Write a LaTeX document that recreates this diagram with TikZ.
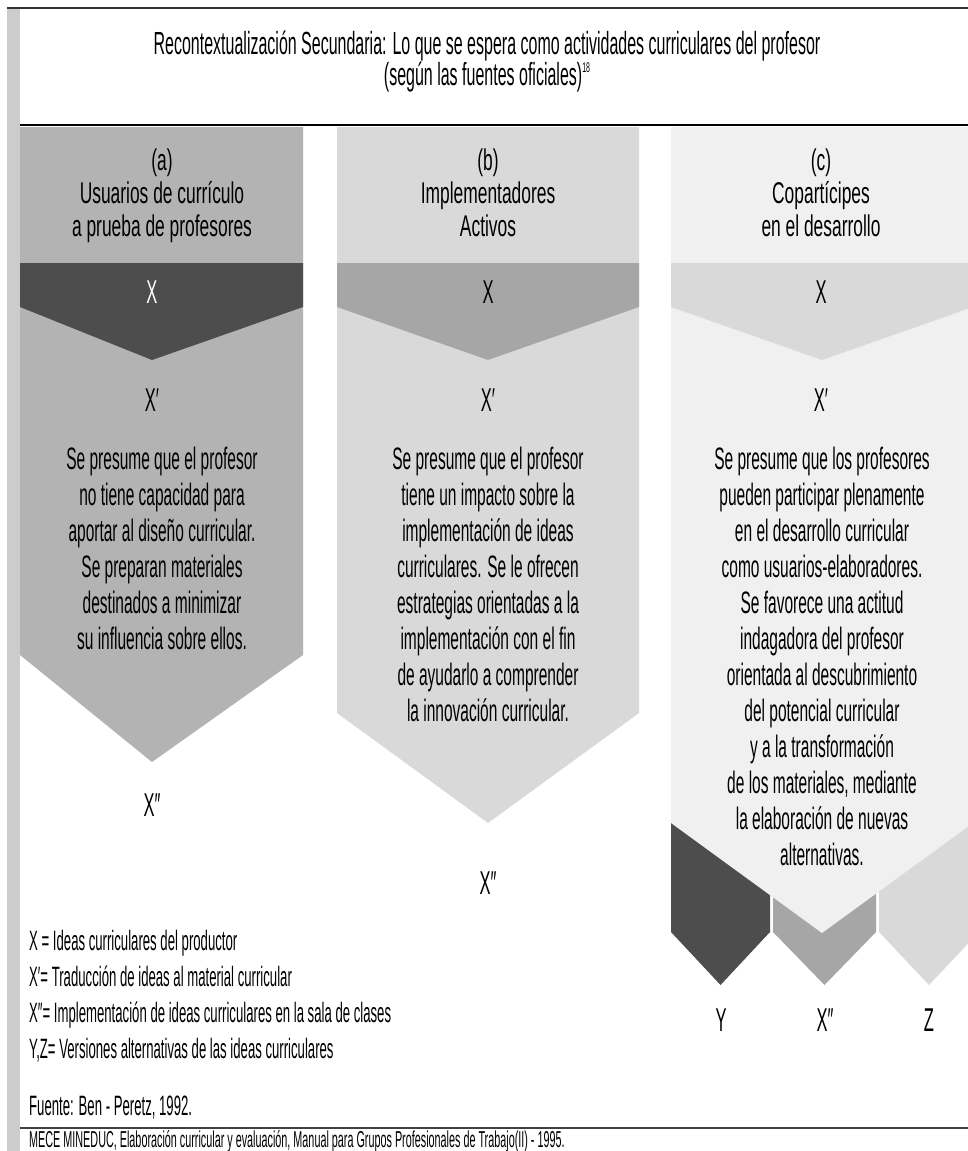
\documentclass[tikz,border=0pt]{standalone}
\usepackage{fontspec}
\setmainfont{Liberation Sans}[FakeStretch=0.5]
\newfontfamily\headfont{Liberation Sans}[FakeStretch=0.58]
\newfontfamily\legfont{Liberation Sans}[FakeStretch=0.47]
\usepackage{tikz}
\definecolor{darkband}{HTML}{4D4D4D}
\definecolor{midgray}{HTML}{A6A6A6}
\definecolor{colA}{HTML}{B3B3B3}
\definecolor{colB}{HTML}{D9D9D9}
\definecolor{colC}{HTML}{F0F0F0}
\definecolor{sidebar}{HTML}{CCCCCC}
\tikzset{head/.style={align=center,inner sep=0pt,anchor=north,font=\headfont\fontsize{30}{33}\selectfont},
body/.style={align=center,inner sep=0pt,anchor=north,font=\fontsize{31}{36}\selectfont},
xlbl/.style={inner sep=0pt,font=\fontsize{33}{33}\selectfont},
legend/.style={align=left,inner sep=0pt,anchor=north west,font=\legfont\fontsize{28}{36}\selectfont}}

\begin{document}
\begin{tikzpicture}[x=1pt,y=-1pt]
\useasboundingbox (0,0) rectangle (968,1151);
\begin{scope}
\clip (0,0) rectangle (968,1151);
% column (a)
\fill[colA] (20,127) -- (303,127) -- (303,655) -- (152,762) -- (20,655) -- cycle;
\fill[darkband] (20,263) -- (303,263) -- (303,307) -- (152,360) -- (20,307) -- cycle;
% column (b)
\fill[colB] (337,127) -- (639,127) -- (639,713) -- (488,823) -- (337,713) -- cycle;
\fill[midgray] (337,263) -- (639,263) -- (639,307) -- (488,360) -- (337,307) -- cycle;
% column (c), alternatives behind
\fill[darkband] (671,790) -- (770,790) -- (770,932) -- (720.5,985) -- (671,932) -- cycle;
\fill[midgray] (773,790) -- (876,790) -- (876,932) -- (824.5,985) -- (773,932) -- cycle;
\fill[colB] (879,790) -- (979,790) -- (979,932) -- (929,985) -- (879,932) -- cycle;
\fill[colC] (671,127) -- (973,127) -- (973,823) -- (822,933) -- (671,823) -- cycle;
\fill[colB] (671,263) -- (973,263) -- (973,307) -- (822,360) -- (671,307) -- cycle;
\end{scope}
\fill[sidebar] (7,8) rectangle (20,1151);
\draw[line width=2pt,black!80] (7,8) -- (968,8);
\draw[line width=2pt] (20,125) -- (968,125);
\draw[line width=1.5pt,black!75] (20,1128) -- (968,1128);

\node[align=center,inner sep=0pt,anchor=north,font=\fontsize{32}{30}\selectfont] (title) at (487,31)
  {Recontextualización Secundaria: Lo que se espera como actividades curriculares del profesor\\
   (según las fuentes oficiales)\raisebox{13pt}{\fontsize{14}{14}\selectfont 18}};

\node[head] (hA) at (162,149) {(a)\\Usuarios de currículo\\a prueba de profesores};
\node[head] (hB) at (488,149) {(b)\\Implementadores\\Activos};
\node[head] (hC) at (821,149) {(c)\\Copartícipes\\en el desarrollo};

\node[xlbl,white] (xA) at (152,292) {X};
\node[xlbl] (xB) at (488,292) {X};
\node[xlbl] (xC) at (821,292) {X};
\node[xlbl] (xpA) at (152,400) {X′};
\node[xlbl] (xpB) at (488,400) {X′};
\node[xlbl] (xpC) at (821,400) {X′};

\node[body] (bodyA) at (162,447) {Se presume que el profesor\\no tiene capacidad para\\aportar al diseño curricular.\\Se preparan materiales\\destinados a minimizar\\su influencia sobre ellos.};
\node[body] (bodyB) at (488,447) {Se presume que el profesor\\tiene un impacto sobre la\\implementación de ideas\\curriculares. Se le ofrecen\\estrategias orientadas a la\\implementación con el fin\\de ayudarlo a comprender\\la innovación curricular.};
\node[body] (bodyC) at (822,447) {Se presume que los profesores\\pueden participar plenamente\\en el desarrollo curricular\\como usuarios-elaboradores.\\Se favorece una actitud\\indagadora del profesor\\orientada al descubrimiento\\del potencial curricular\\y a la transformación\\de los materiales, mediante\\la elaboración de nuevas\\alternativas.};

\node[xlbl] (xppA) at (152,805) {X″};
\node[xlbl] (xppB) at (488,883) {X″};
\node[xlbl] (y) at (721,1020) {Y};
\node[xlbl] (xppC) at (825,1020) {X″};
\node[xlbl] (z) at (929,1020) {Z};

\node[legend] (key) at (29,930) {X = Ideas curriculares del productor\\X′= Traducción de ideas al material curricular\\X″= Implementación de ideas curriculares en la sala de clases\\Y,Z= Versiones alternativas de las ideas curriculares};
\node[anchor=base west,inner sep=0pt,font=\legfont\fontsize{28}{28}\selectfont] (src) at (29,1115) {Fuente: Ben - Peretz, 1992.};
\node[anchor=base west,inner sep=0pt,font=\legfont\fontsize{23}{23}\selectfont] (mece) at (29,1147) {MECE MINEDUC, Elaboración curricular y evaluación, Manual para Grupos Profesionales de Trabajo(II) - 1995.};
\end{tikzpicture}
\end{document}
